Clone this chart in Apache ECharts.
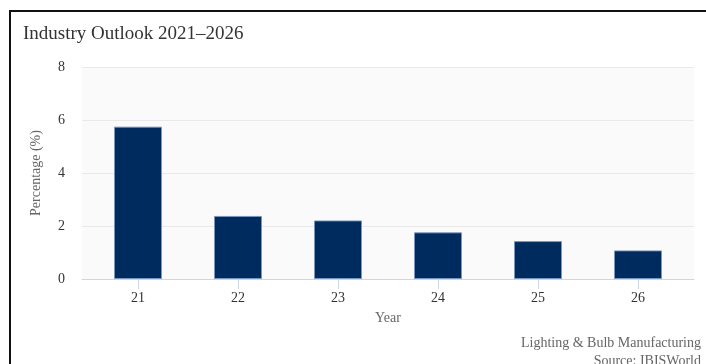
<!DOCTYPE html>
<html>
<head>
<meta charset="utf-8">
<script src="https://cdn.jsdelivr.net/npm/echarts@6/dist/echarts.min.js"></script>
<style>
  html, body { margin: 0; padding: 0; background: #fff; overflow: hidden; }
  #frame { position: absolute; left: 9px; top: 10px; width: 800px; height: 500px; border: 2px solid #111; box-sizing: border-box; }
  #chart { position: absolute; left: 0; top: 0; width: 706px; height: 364px; }
</style>
</head>
<body>
<div id="frame"></div>
<div id="chart"></div>
<script>
const categories = ['21', '22', '23', '24', '25', '26'];
const growth = [5.75, 2.38, 2.21, 1.76, 1.43, 1.08];
const yTicks = { min: 0, max: 8, interval: 2 };
const titleText = 'Industry Outlook 2021\u20132026';
const creditLines = ['Lighting & Bulb Manufacturing', 'Source: IBISWorld'];

const FONT = '"Liberation Serif", "Times New Roman", serif';
const chart = echarts.init(document.getElementById('chart'), null, { renderer: 'canvas' });

chart.setOption({
  animation: false,
  backgroundColor: 'transparent',
  title: {
    text: titleText,
    left: 18,
    top: 20,
    textStyle: { fontFamily: FONT, fontSize: 19, fontWeight: 'normal', color: '#333' }
  },
  grid: [
    { left: 82, right: 12, top: 67, bottom: 85, show: true, backgroundColor: '#fafafa', borderWidth: 0 },
    { left: 88, right: 18, top: 67, bottom: 85, show: false }
  ],
  xAxis: [
    {
      gridIndex: 0, type: 'category', data: categories,
      name: 'Year', nameLocation: 'middle', nameGap: 32,
      nameTextStyle: { fontFamily: FONT, fontSize: 14, color: '#666' },
      axisLine: { show: true, lineStyle: { color: '#ccd6eb', width: 1 } },
      axisTick: { show: false },
      axisLabel: { show: false },
      splitLine: { show: false }
    },
    {
      gridIndex: 1, type: 'category', data: categories,
      axisLine: { show: false },
      axisTick: { show: true, alignWithLabel: true, length: 10, lineStyle: { color: '#ccd6eb' } },
      axisLabel: { margin: 12, fontFamily: FONT, fontSize: 14, color: '#333' },
      splitLine: { show: false }
    }
  ],
  yAxis: [
    {
      gridIndex: 0, type: 'value', min: yTicks.min, max: yTicks.max, interval: yTicks.interval,
      name: 'Percentage (%)', nameLocation: 'middle', nameGap: 39, nameRotate: 90,
      nameTextStyle: { fontFamily: FONT, fontSize: 14, color: '#666' },
      axisLine: { show: false }, axisTick: { show: false },
      axisLabel: { margin: 17, fontFamily: FONT, fontSize: 14, color: '#333' },
      splitLine: { show: true, lineStyle: { color: '#e9e9e9', width: 1 } }
    },
    {
      gridIndex: 1, type: 'value', min: yTicks.min, max: yTicks.max, interval: yTicks.interval,
      show: false, splitLine: { show: false }
    }
  ],
  series: [{
    type: 'bar',
    xAxisIndex: 1, yAxisIndex: 1,
    data: growth,
    barWidth: '48%',
    itemStyle: { color: '#002b5f', borderColor: 'rgba(120,150,190,0.9)', borderWidth: 1 }
  }],
  graphic: creditLines.map((line, i) => ({
    type: 'text', right: 5, top: 336 + i * 18,
    style: { text: line, fontFamily: FONT, fontSize: 14, fill: '#666', align: 'right' }
  }))
});
</script>
</body>
</html>
